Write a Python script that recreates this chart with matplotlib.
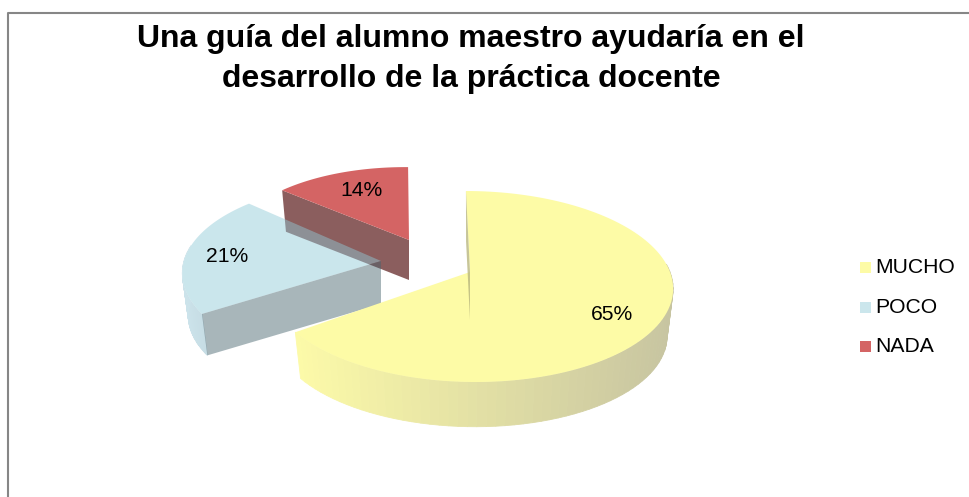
# exploded 3d style pie, drawn as projected polygons
import numpy as np
import matplotlib
matplotlib.use('Agg')
import matplotlib.pyplot as plt

plt.rcParams['font.family'] = ['Liberation Sans', 'DejaVu Sans']

# data
categories = ['MUCHO', 'POCO', 'NADA']
values = [65, 21, 14]
pct_labels = ['65%', '21%', '14%']
title = 'Una guía del alumno maestro ayudaría en el\ndesarrollo de la práctica docente'

# colours
top_colors = ['#FDFBA6', '#CBE6EC', '#D46464']
wall_left = [(0.99, 0.98, 0.66), (0.80, 0.89, 0.92), (0.55, 0.37, 0.37)]
wall_right = [(0.78, 0.77, 0.63), (0.72, 0.80, 0.83), (0.55, 0.37, 0.37)]
radial_colors = ['#B9B77E', '#A8B6BB', '#8B5E5E']

# pixel position of each slice: apex x, apex y, scale, wall depth, view turn in degrees
apex = [(470, 272, 1.0, 48, 0), (381, 261, 0.985, 43, 4), (409, 240, 0.9, 40, 1)]
RX, RY, K, SHEAR = 200, 93.3, 0.152, 0.05


def project(theta, r, pos, low=False):
    # theta is clockwise from 12 o'clock, r is 0..1 on the disk
    x0, y0, s, depth, turn = pos
    th = theta + np.radians(turn)
    u = r * np.sin(th)
    v = -r * np.cos(th)
    d = 1 - K * v
    px = RX * u / d
    py = RY * v / d
    px = px + SHEAR * py
    f = s * (0.97 if low else 1.0)
    return x0 + f * px, y0 + f * py + (depth if low else 0)


def top_outline(a, b, pos):
    t = np.linspace(a, b, 120)
    x, y = project(t, 1.0, pos)
    x0, y0 = project(0.0, 0.0, pos)
    return np.r_[x0, x], np.r_[y0, y]


def draw_outer_wall(ax, a, b, pos, i, z):
    t = np.linspace(a, b, 100)
    xt, yt = project(t, 1.0, pos)
    xb, yb = project(t, 1.0, pos, low=True)
    x_lo, x_hi = min(xt.min(), xb.min()), max(xt.max(), xb.max())
    for j in range(len(t) - 1):
        # the back half is hidden by the top anyway
        if np.cos(t[j]) > 0.1:
            continue
        w = ((xt[j] + xt[j + 1]) / 2 - x_lo) / (x_hi - x_lo)
        col = [wall_left[i][c] * (1 - w) + wall_right[i][c] * w for c in range(3)]
        ax.fill([xt[j], xt[j + 1], xb[j + 1], xb[j]],
                [yt[j], yt[j + 1], yb[j + 1], yb[j]],
                color=col, lw=0.6, zorder=z)


def draw_radial_wall(ax, th, pos, color, z, alpha=1.0):
    x1, y1 = project(th, 1.0, pos)
    x2, y2 = project(th, 0.0, pos)
    x3, y3 = project(th, 0.0, pos, low=True)
    x4, y4 = project(th, 1.0, pos, low=True)
    ax.fill([x1, x2, x3, x4], [y1, y2, y3, y4], color=color, lw=0, alpha=alpha, zorder=z)


fig = plt.figure(figsize=(9.7, 4.97), dpi=100)
ax = fig.add_axes([0, 0, 1, 1])
ax.set_xlim(0, 970)
ax.set_ylim(497, 0)
ax.axis('off')

# chart frame, only top and left are in the crop
ax.plot([8, 8, 970], [497, 13, 13], color='#868686', lw=1.5, zorder=1)

# slice angles from the values
cum = np.cumsum([0] + values) / sum(values) * 2 * np.pi

# blue outer wall and a white base for its top go under the red slice
pos = apex[1]
draw_outer_wall(ax, cum[1], cum[2], pos, 1, 8)
x, y = top_outline(cum[1], cum[2], pos)
ax.fill(x, y, color='white', lw=0, zorder=9)

# red at the back
pos = apex[2]
draw_radial_wall(ax, cum[2], pos, radial_colors[2], 10)
xr, yr = top_outline(cum[2], cum[3], pos)
ax.fill(xr, yr, color=top_colors[2], lw=0, zorder=11)

# blue is see through where it crosses the red wall
pos = apex[1]
ax.fill(x, y, color=(144 / 255, 202 / 255, 215 / 255), alpha=0.47, lw=0, zorder=21)
draw_radial_wall(ax, cum[1], pos, (70 / 255, 100 / 255, 110 / 255), 22, alpha=0.47)

# yellow in front
pos = apex[0]
draw_outer_wall(ax, cum[0], cum[1], pos, 0, 30)
xy, yy = top_outline(cum[0], cum[1], pos)
ax.fill(xy, yy, color=top_colors[0], lw=0, zorder=31)
draw_radial_wall(ax, cum[0], pos, radial_colors[0], 32, alpha=0.8)

# percent labels
label_xy = [(612, 314), (227, 256), (362, 190)]
for lab, (lx, ly) in zip(pct_labels, label_xy):
    ax.text(lx, ly, lab, fontsize=15.2, ha='center', va='center', color='black', zorder=40)

# legend
legend_y = [267.5, 307.5, 346.5]
for name, col, ly in zip(categories, top_colors, legend_y):
    ax.fill([860, 871, 871, 860], [ly - 5.5, ly - 5.5, ly + 5.5, ly + 5.5], color=col, lw=0)
    ax.text(875, ly, name, fontsize=15.2, ha='left', va='center', color='black')

# title
ax.text(471, 59, title, fontsize=23, fontweight='bold', ha='center', va='center',
        color='black', linespacing=1.45)

fig.savefig('out.png', dpi=100)
